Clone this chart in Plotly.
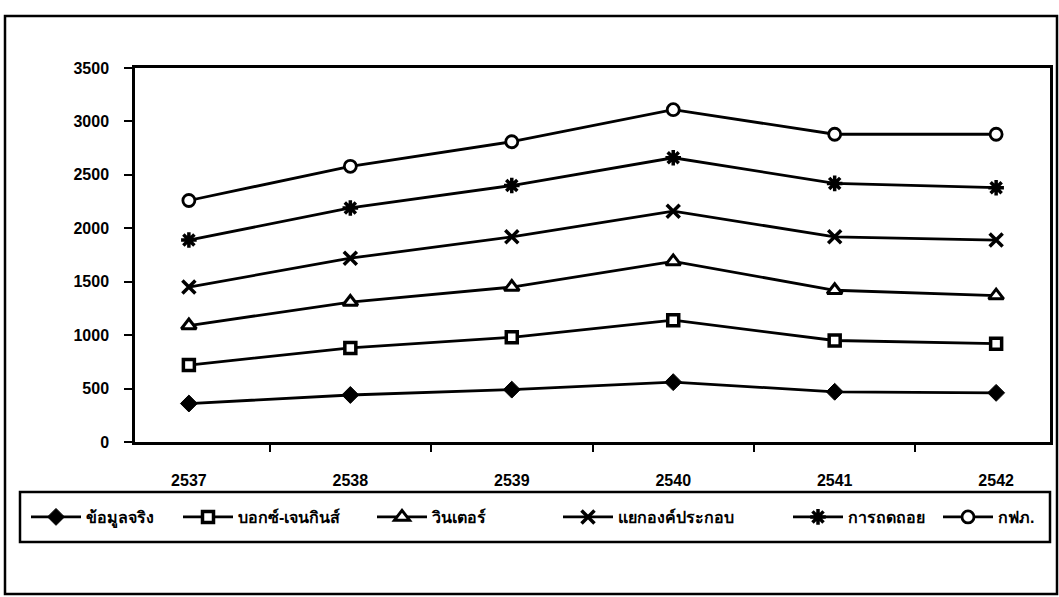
import plotly.graph_objects as go

# Years (Buddhist Era) on the category axis
years = ["2537", "2538", "2539", "2540", "2541", "2542"]

# Series values, one list per forecasting method
actual = [360, 440, 490, 560, 470, 460]
box_jenkins = [720, 880, 980, 1140, 950, 920]
winters = [1090, 1310, 1450, 1690, 1420, 1370]
decomposition = [1450, 1720, 1920, 2160, 1920, 1890]
regression = [1890, 2190, 2400, 2660, 2420, 2380]
pea = [2260, 2580, 2810, 3110, 2880, 2880]

series_names = ["ข้อมูลจริง", "บอกซ์-เจนกินส์", "วินเตอร์", "แยกองค์ประกอบ", "การถดถอย", "กฟภ."]
series_values = [actual, box_jenkins, winters, decomposition, regression, pea]

y_ticks = [0, 500, 1000, 1500, 2000, 2500, 3000, 3500]

W, H = 1059, 597
L, R, T, B = 135, 9, 68, 155
PW, PH = W - L - R, H - T - B

# left edge (px) of each legend entry inside the legend strip
legend_left_px = [26, 178, 372, 558, 788, 938]
legend_mid_px = 517

marker_styles = [
    dict(symbol="diamond", size=13, color="black", line=dict(color="black", width=1)),
    dict(symbol="square", size=11, color="white", line=dict(color="black", width=3.5)),
    dict(symbol="triangle-up", size=13, color="white", line=dict(color="black", width=3)),
    dict(symbol="x-thin-open", size=13, color="black", line=dict(color="black", width=3.5)),
    dict(symbol="asterisk-open", size=13, color="black", line=dict(color="black", width=3.5)),
    dict(symbol="circle", size=12, color="white", line=dict(color="black", width=2.8)),
]

font_family = "Liberation Sans, Arial, sans-serif"

fig = go.Figure()
legend_layouts = {}
for i, (name, vals, mk) in enumerate(zip(series_names, series_values, marker_styles)):
    key = "legend" if i == 0 else f"legend{i + 1}"
    fig.add_trace(go.Scatter(
        x=years, y=vals, name=name, mode="lines+markers",
        line=dict(color="black", width=2.8),
        marker=mk, legend=key,
    ))
    legend_layouts[key] = dict(
        orientation="h", x=legend_left_px[i] / W, y=(H - legend_mid_px) / H,
        xanchor="left", yanchor="middle", xref="container", yref="container",
        bgcolor="rgba(0,0,0,0)", borderwidth=0,
        font=dict(family=font_family, size=16, color="black", weight="bold"),
        itemwidth=50,
    )


def px_x(px):
    return (px - L) / PW


def px_y(py):
    return (T + PH - py) / PH


shapes = [
    # outer frame around the whole chart
    dict(type="rect", xref="paper", yref="paper",
         x0=px_x(5), x1=px_x(1057), y0=px_y(594), y1=px_y(16),
         line=dict(color="black", width=2.5), fillcolor="rgba(0,0,0,0)", layer="below"),
    # legend box
    dict(type="rect", xref="paper", yref="paper",
         x0=px_x(20), x1=px_x(1050), y0=px_y(542), y1=px_y(492),
         line=dict(color="black", width=2.5), fillcolor="rgba(0,0,0,0)", layer="below"),
]

fig.update_layout(
    width=W, height=H,
    margin=dict(l=L, r=R, t=T, b=B, autoexpand=False),
    paper_bgcolor="white", plot_bgcolor="white",
    font=dict(family=font_family, size=14, color="black"),
    shapes=shapes,
    showlegend=True,
    **legend_layouts,
)

fig.update_xaxes(
    type="category", categoryorder="array", categoryarray=years,
    showline=True, linecolor="black", linewidth=2.5, mirror=True,
    ticks="outside", ticklen=7, tickwidth=2, tickcolor="black",
    tickson="boundaries", showgrid=False, zeroline=False,
    ticklabelstandoff=22,
    tickfont=dict(family=font_family, size=16, color="black", weight="bold"),
)
fig.update_yaxes(
    range=[0, 3500], tickvals=y_ticks, ticktext=[str(v) for v in y_ticks],
    showline=True, linecolor="black", linewidth=2.5, mirror=True,
    ticks="outside", ticklen=8, tickwidth=2, tickcolor="black",
    showgrid=False, zeroline=False, ticklabelstandoff=12,
    tickfont=dict(family=font_family, size=16, color="black", weight="bold"),
)

fig.write_html("out.html")
